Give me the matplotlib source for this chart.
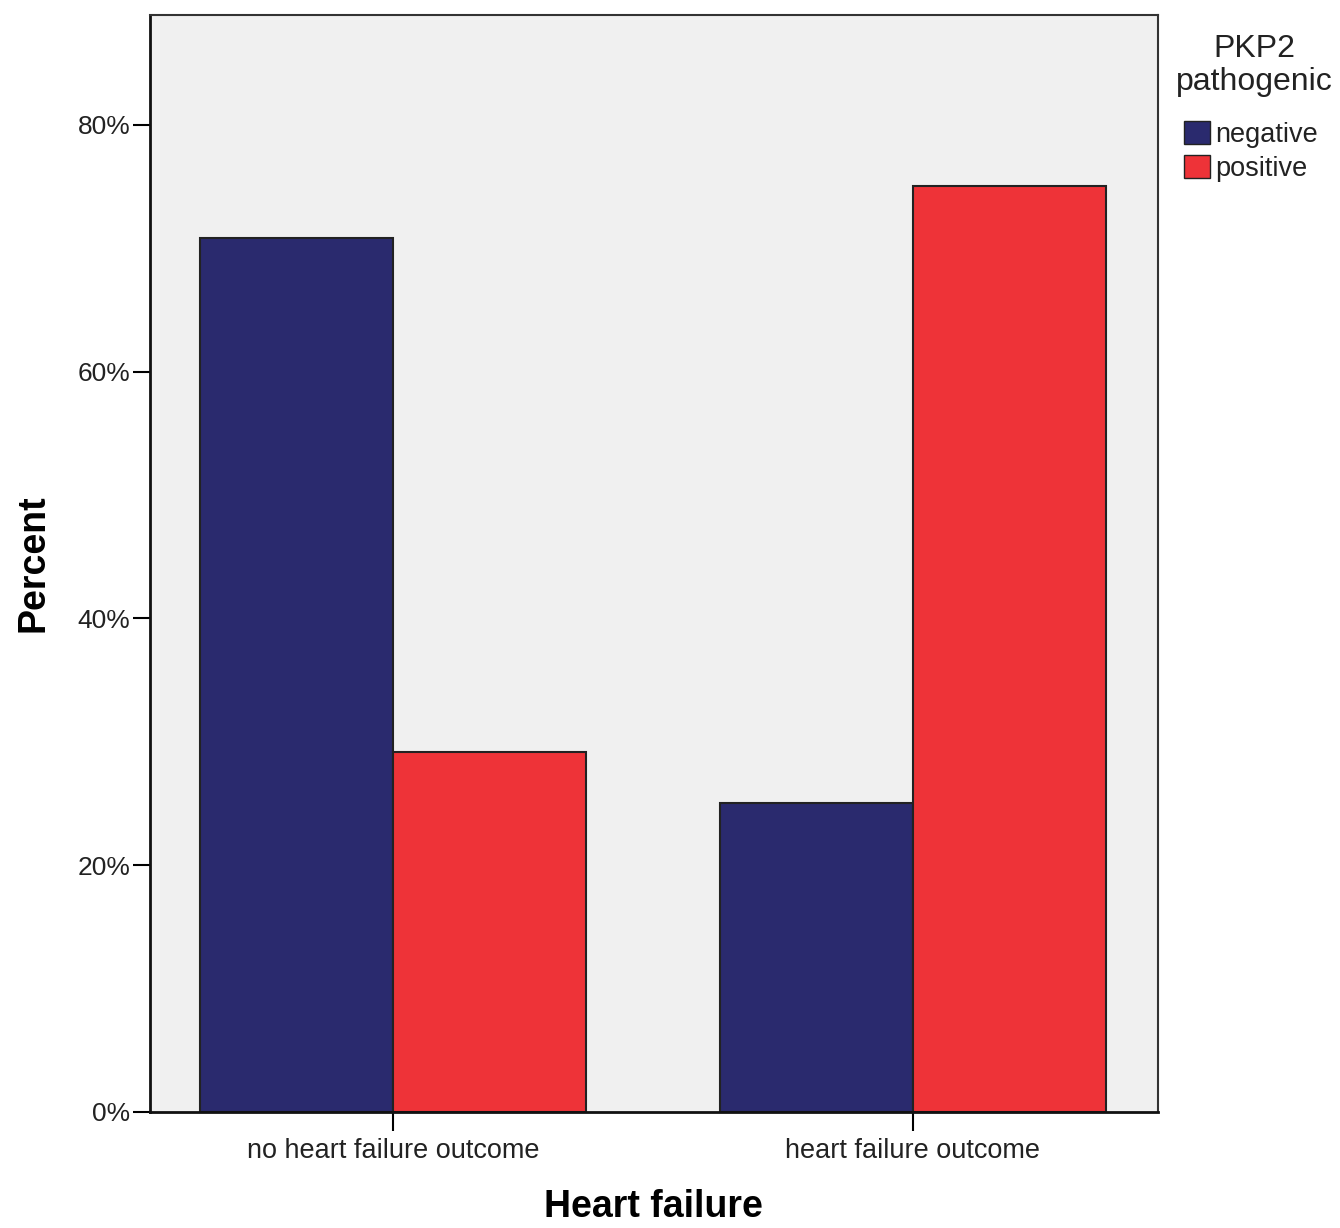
import matplotlib
matplotlib.use("Agg")
import matplotlib.pyplot as plt
import numpy as np
from matplotlib.patches import Patch

categories = ["no heart failure outcome", "heart failure outcome"]
series_names = ["negative", "positive"]
negative = [70.8, 25.0]
positive = [29.2, 75.0]
yticks = [0, 20, 40, 60, 80]
ytick_labels = ["0%", "20%", "40%", "60%", "80%"]

plt.rcParams['font.family'] = ['Liberation Sans', 'DejaVu Sans']

fig = plt.figure(figsize=(13.4, 12.28), dpi=100)
ax = fig.add_axes([0.1119, 0.0945, 0.7522, 0.8933])
ax.set_facecolor("#F0F0F0")

x = np.arange(len(categories))
w = 0.371
c_neg = "#2A2A6E"
c_pos = "#EE3338"
ax.bar(x - w/2, negative, width=w, color=c_neg, edgecolor="#222222", linewidth=1.5)
ax.bar(x + w/2, positive, width=w, color=c_pos, edgecolor="#222222", linewidth=1.5)

ax.set_xlim(-0.467, 1.471)
ax.set_ylim(0, 88.9)
ax.set_yticks(yticks)
ax.set_yticklabels(ytick_labels, fontsize=19, color="#222222")
ax.set_xticks(x)
ax.set_xticklabels(categories, fontsize=19.5, color="#222222")
ax.tick_params(axis='y', direction='out', length=12, width=1.5, pad=2)
ax.tick_params(axis='x', direction='out', length=14, width=1.5, pad=5)
for s in ax.spines.values():
    s.set_linewidth(1.5)
    s.set_color("#333333")
for s in ["left", "bottom"]:
    ax.spines[s].set_color("#111111")
    ax.spines[s].set_linewidth(2)

ax.set_xlabel("Heart failure", fontsize=27, fontweight="bold", labelpad=18)
ax.set_ylabel("Percent", fontsize=27, fontweight="bold", labelpad=19)

fig.text(1254/1340, 1 - 34/1228, "PKP2\npathogenic", ha="center", va="top",
         fontsize=23, linespacing=1.15, color="#222222")

handles = [Patch(facecolor=c_neg, edgecolor="#222222", label=series_names[0]),
           Patch(facecolor=c_pos, edgecolor="#222222", label=series_names[1])]
leg = fig.legend(handles=handles, loc="upper left",
                 bbox_to_anchor=(1184/1340, 1 - 121/1228), frameon=False, fontsize=19.5,
                 handlelength=0.95, handleheight=0.95,
                 handletextpad=0.2, labelspacing=0.25, borderaxespad=0, borderpad=0)
for t in leg.get_texts():
    t.set_color("#222222")

fig.savefig("out.png", dpi=100, facecolor="white")
